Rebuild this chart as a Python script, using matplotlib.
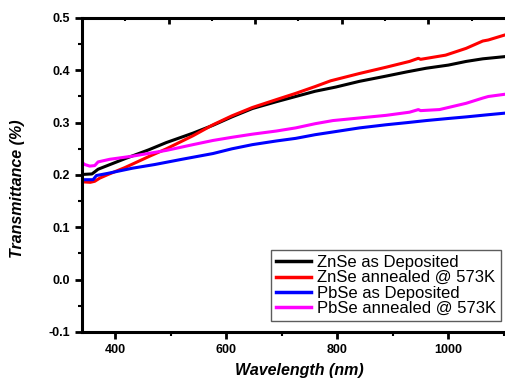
import matplotlib.pyplot as plt

# wavelength grid (nm) and transmittance values
wl_black = [340, 358, 363, 369, 393, 417, 460, 492, 540, 576, 610, 647, 690, 725, 760, 797, 840, 888, 925, 960, 1000, 1032, 1062, 1100]
t_black = [0.201, 0.202, 0.206, 0.211, 0.221, 0.231, 0.248, 0.262, 0.280, 0.295, 0.311, 0.327, 0.340, 0.350, 0.360, 0.368, 0.379, 0.389, 0.397, 0.404, 0.410, 0.417, 0.422, 0.426]

wl_red = [340, 355, 363, 372, 387, 417, 462, 492, 540, 576, 610, 647, 690, 725, 760, 788, 840, 888, 930, 946, 950, 995, 1032, 1062, 1072, 1100]
t_red = [0.187, 0.186, 0.188, 0.194, 0.201, 0.214, 0.236, 0.250, 0.275, 0.296, 0.313, 0.329, 0.344, 0.356, 0.369, 0.380, 0.394, 0.406, 0.417, 0.423, 0.421, 0.429, 0.442, 0.456, 0.458, 0.467]

wl_blue = [340, 360, 366, 386, 431, 471, 520, 576, 610, 647, 690, 725, 760, 797, 840, 888, 925, 960, 1000, 1032, 1070, 1100]
t_blue = [0.191, 0.191, 0.199, 0.203, 0.213, 0.220, 0.230, 0.241, 0.250, 0.258, 0.265, 0.270, 0.277, 0.283, 0.290, 0.296, 0.300, 0.304, 0.308, 0.311, 0.315, 0.318]

wl_mag = [340, 345, 354, 363, 369, 390, 431, 492, 540, 576, 610, 647, 690, 725, 760, 792, 840, 888, 930, 946, 950, 984, 1032, 1062, 1072, 1100]
t_mag = [0.224, 0.220, 0.217, 0.218, 0.225, 0.230, 0.236, 0.247, 0.258, 0.266, 0.272, 0.278, 0.284, 0.290, 0.298, 0.304, 0.309, 0.314, 0.320, 0.325, 0.323, 0.325, 0.337, 0.347, 0.350, 0.354]

labels = ["ZnSe as Deposited", "ZnSe annealed @ 573K", "PbSe as Deposited", "PbSe annealed @ 573K"]
colors = ["black", "red", "blue", "magenta"]

fig = plt.figure(figsize=(5.06, 3.78), dpi=100)
ax = fig.add_axes([0.162, 0.1217, 0.836, 0.8307])

series = [(wl_black, t_black), (wl_red, t_red), (wl_blue, t_blue), (wl_mag, t_mag)]
for (x, y), lab, c in zip(series, labels, colors):
    ax.plot(x, y, color=c, lw=2.2, label=lab)

ax.set_xlim(340, 1102)
ax.set_ylim(-0.1, 0.5)
ax.set_xticks([400, 600, 800, 1000])
ax.set_xticks([500, 700, 900, 1100], minor=True)
ax.set_yticks([-0.1, 0.0, 0.1, 0.2, 0.3, 0.4, 0.5])
ax.set_yticks([-0.05, 0.05, 0.15, 0.25, 0.35, 0.45], minor=True)
ax.set_yticklabels(["-0.1", "0.0", "0.1", "0.2", "0.3", "0.4", "0.5"])

for s in ["left", "bottom", "top"]:
    ax.spines[s].set_linewidth(2.2)
ax.spines["right"].set_visible(False)

ax.tick_params(which="major", direction="out", length=5, width=2, labelsize=9)
ax.tick_params(which="minor", direction="out", length=3, width=1.5)
for t in ax.get_xticklabels() + ax.get_yticklabels():
    t.set_fontweight("bold")
    t.set_family("Liberation Sans")

# top axis with its own ticks (inward)
top = ax.twiny()
top.set_xlim(ax.get_xlim())
top.set_xticks([496, 652, 808, 964])
top.set_xticks([418, 574, 730, 886, 1042], minor=True)
top.set_xticklabels([])
top.tick_params(which="major", direction="in", length=4, width=2)
top.tick_params(which="minor", direction="in", length=2, width=1.5)
for s in top.spines.values():
    s.set_visible(False)

ax.set_xlabel("Wavelength (nm)", fontsize=11.5, fontweight="bold", style="italic",
              family="Liberation Sans")
ax.set_ylabel("Transmittance (%)", fontsize=11.5, fontweight="bold", style="italic",
              family="Liberation Sans")
ax.xaxis.set_label_coords(0.514, -0.10)
ax.yaxis.set_label_coords(-0.135, 0.455)

leg = ax.legend(loc="lower right", bbox_to_anchor=(0.990, 0.035),
                prop={"family": "Liberation Sans", "size": 12},
                frameon=True, fancybox=False, handlelength=2.1, handletextpad=0.35,
                borderpad=0.3, labelspacing=0.02, borderaxespad=0)
leg.get_frame().set_edgecolor("#333333")
leg.get_frame().set_linewidth(1.0)
for line in leg.get_lines():
    line.set_linewidth(2.5)

plt.savefig("out.png", dpi=100)
